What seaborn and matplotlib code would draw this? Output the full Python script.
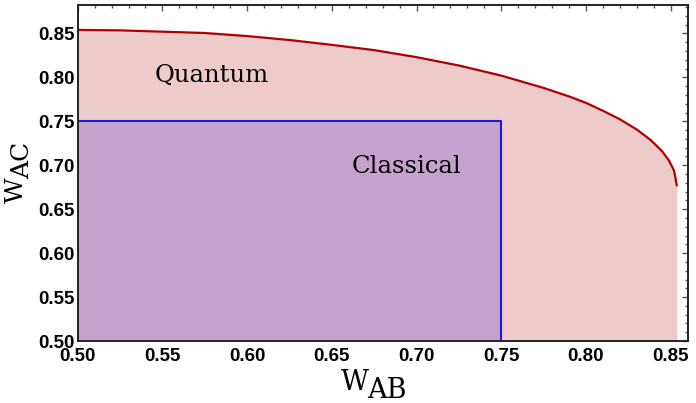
import numpy as np
import pandas as pd
import seaborn as sns
import matplotlib.pyplot as plt
from matplotlib.ticker import MultipleLocator, FormatStrFormatter

# ---- data ----
w_ab_quantum = [0.500, 0.525, 0.550, 0.575, 0.600, 0.625, 0.650, 0.675, 0.700, 0.725,
                0.750, 0.775, 0.790, 0.800, 0.810, 0.820, 0.830, 0.838, 0.845, 0.849,
                0.852, 0.8536]
w_ac_quantum = [0.854, 0.8535, 0.852, 0.8505, 0.847, 0.8425, 0.837, 0.831, 0.823, 0.8135,
                0.802, 0.788, 0.7783, 0.771, 0.762, 0.7523, 0.7406, 0.729, 0.7158, 0.7053,
                0.6938, 0.677]
classical_ab = [0.50, 0.75, 0.75]
classical_ac = [0.75, 0.75, 0.50]
axis_min = 0.50
x_max, y_max = 0.86, 0.882

quantum = pd.DataFrame({"W_AB": w_ab_quantum, "W_AC": w_ac_quantum})
classical = pd.DataFrame({"W_AB": classical_ab, "W_AC": classical_ac})

sns.set_theme(style="white")
plt.rcParams["font.family"] = ["Liberation Sans", "DejaVu Sans"]

fig = plt.figure(figsize=(6.96, 4.03), dpi=100)
ax = fig.add_axes([0.1116, 0.1538, 0.8764, 0.833])

# quantum region
ax.fill_between(quantum["W_AB"], axis_min, quantum["W_AC"], color="#EDCBCB", lw=0, zorder=1)
sns.lineplot(data=quantum, x="W_AB", y="W_AC", sort=False, estimator=None,
             color="#B00000", lw=1.6, ax=ax, zorder=3)

# classical region
ax.fill_between([classical_ab[0], classical_ab[1]], axis_min, classical_ac[0],
                color="#C5A2CC", lw=0, zorder=2)
sns.lineplot(data=classical, x="W_AB", y="W_AC", sort=False, estimator=None,
             color="#1A1AD6", lw=1.5, ax=ax, zorder=3)

ax.set_xlim(axis_min, x_max)
ax.set_ylim(axis_min, y_max)
ax.set_xlabel("")
ax.set_ylabel("")

for a in (ax.xaxis, ax.yaxis):
    a.set_major_locator(MultipleLocator(0.05))
    a.set_minor_locator(MultipleLocator(0.01))
    a.set_major_formatter(FormatStrFormatter("%.2f"))

ax.tick_params(which="both", direction="in", top=True, right=True, color="#555555", width=1.0)
ax.tick_params(which="major", length=4)
ax.tick_params(which="minor", length=2.5)
ax.tick_params(axis="x", which="major", pad=5)
ax.tick_params(axis="y", which="major", pad=2)
for lab in ax.get_xticklabels() + ax.get_yticklabels():
    lab.set_fontsize(13.5)
    lab.set_fontweight("bold")
    lab.set_color("black")

for s in ax.spines.values():
    s.set_color("#222222")
    s.set_linewidth(1.4)
    s.set_zorder(5)

serif = ["DejaVu Serif"]
ax.text(0.5789, 0.795, "Quantum", family=serif, fontsize=17.5, color="black",
        ha="center", va="baseline", zorder=4)
ax.text(0.6939, 0.6908, "Classical", family=serif, fontsize=17.5, color="black",
        ha="center", va="baseline", zorder=4)

# axis labels with large subscripts
fig.text(341 / 696, (403 - 390) / 403, "W", family=serif, fontsize=19.5, color="black",
         ha="left", va="baseline")
fig.text(367 / 696, (403 - 398) / 403, "AB", family=serif, fontsize=19.5, color="black",
         ha="left", va="baseline")
fig.text(16 / 696, 1 - 190.5 / 403, "W", family=serif, fontsize=18, color="black",
         rotation=90, ha="center", va="center")
fig.text(22.5 / 696, 1 - 160 / 403, "AC", family=serif, fontsize=18, color="black",
         rotation=90, ha="center", va="center")

fig.savefig("out.png", dpi=100)
